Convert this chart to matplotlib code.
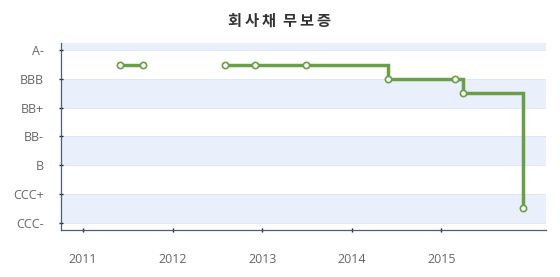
import numpy as np
import matplotlib.pyplot as plt
import matplotlib.dates as mdates
from datetime import date

# rating scale (top to bottom) and the labels that are shown
scale = ['A-', 'BBB+', 'BBB', 'BBB-', 'BB+', 'BB', 'BB-', 'B+', 'B', 'B-', 'CCC+', 'CCC', 'CCC-']
shown = ['A-', 'BBB', 'BB+', 'BB-', 'B', 'CCC+', 'CCC-']

# first run of ratings, then a gap, then the second run
dates1 = [date(2011, 5, 30), date(2011, 9, 2)]
ratings1 = ['BBB+', 'BBB+']
dates2 = [date(2012, 7, 31), date(2012, 12, 1), date(2013, 6, 29), date(2014, 5, 28),
          date(2015, 2, 26), date(2015, 4, 1), date(2015, 12, 2)]
ratings2 = ['BBB+', 'BBB+', 'BBB+', 'BBB', 'BBB', 'BBB-', 'CCC']

years = [2011, 2012, 2013, 2014, 2015]

green = '#6a9e48'

plt.rcParams['font.family'] = ['Open Sans', 'Noto Sans CJK KR', 'DejaVu Sans']

fig = plt.figure(figsize=(5.6, 2.77), dpi=100)
ax = fig.add_axes([0.109, 0.170, 0.866, 0.675])

ax.set_ylim(len(scale) - 0.5, -0.5)
ax.set_xlim(mdates.date2num(date(2010, 10, 3)), mdates.date2num(date(2016, 3, 3)))

# alternating bands
ax.axhspan(-0.5, 0, color='#e9effb', lw=0, zorder=0)
for k in range(2, 12, 4):
    ax.axhspan(k, k + 2, color='#e9effb', lw=0, zorder=0)
for k in range(0, 13, 2):
    ax.axhline(k, color='#dde5f5', lw=0.6, zorder=0.5)

for d, r in [(dates1, ratings1), (dates2, ratings2)]:
    y = [scale.index(v) for v in r]
    x = mdates.date2num(d)
    ax.plot(x, y, drawstyle='steps-post', color=green, lw=2.5, zorder=2,
            solid_joinstyle='miter')
    ax.plot(x, y, 'o', ms=4.5, mfc='white', mec=green, mew=1.2, zorder=3)

ax.set_yticks([scale.index(s) for s in shown])
ax.set_yticklabels(shown)
ax.set_xticks(mdates.date2num([date(yr, 1, 1) for yr in years]))
ax.set_xticklabels([str(yr) for yr in years])

for s in ['top', 'right']:
    ax.spines[s].set_visible(False)
for s in ['left', 'bottom']:
    ax.spines[s].set_color('#4d5f78')
    ax.spines[s].set_linewidth(0.9)

ax.tick_params(axis='y', direction='inout', length=3, width=1, color='#1a2230',
               labelsize=9, labelcolor='#666666', pad=11)
ax.tick_params(axis='x', direction='inout', length=3, width=1, color='#1a2230',
               labelsize=9, labelcolor='#666666', pad=15)

# title is drawn slightly letter-spaced, as in the original
title = '\u2009'.join('회사채') + '  ' + '\u2009'.join('무보증')
fig.text(0.5, 0.925, title, ha='center', va='center', fontsize=11,
         fontweight='bold', color='#333333', family=['Noto Sans CJK KR', 'DejaVu Sans'])

fig.savefig('out.png', dpi=100)
